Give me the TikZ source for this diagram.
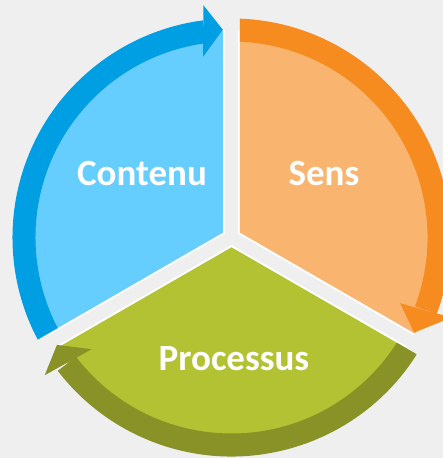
\documentclass[tikz,border=0pt]{standalone}
\usepackage{fontspec}
\setmainfont{Carlito}
\definecolor{bgGray}{HTML}{EFEFEF}
\definecolor{blueDark}{HTML}{009FE3}
\definecolor{blueLight}{HTML}{66CDFF}
\definecolor{orangeDark}{HTML}{F68B1F}
\definecolor{orangeLight}{HTML}{F9B56F}
\definecolor{greenLight}{HTML}{B3C233}
\definecolor{greenDark}{HTML}{889226}
\tikzset{
  label text/.style={text=white, font=\bfseries\fontsize{37}{40}\selectfont, inner sep=0pt, anchor=base}
}
\begin{document}
\begin{tikzpicture}[x=1pt,y=1pt]
  % canvas
  \fill[bgGray] (-231.5,-220.5) rectangle (211.5,237.5);
  \useasboundingbox (-231.5,-220.5) rectangle (211.5,237.5);

  % exploded pie: white rim, then coloured wedge
  \begin{scope}
    \clip (0,0) circle (207);
    \foreach \a/\c in {150/blueLight,30/orangeLight,270/greenLight} {
      \fill[white,shift={(\a:7.506)}] (0,0) -- ({\a-60}:400) -- (\a:400) -- ({\a+60}:400) -- cycle;
      \fill[\c,shift={(\a:9.815)}] (0,0) -- ({\a-60}:400) -- (\a:400) -- ({\a+60}:400) -- cycle;
    }
  \end{scope}

  % ring shafts, each cut along its own wedge
  \begin{scope}
    \clip[shift={(150:9.815)}] (0,0) -- (90:400) -- (150:400) -- (210:400) -- cycle;
    \fill[blueDark] (215:219) arc[start angle=215, end angle=97.5, radius=219]
      -- (97.5:196) arc[start angle=97.5, end angle=215, radius=196] -- cycle;
  \end{scope}
  \begin{scope}
    \clip[shift={(30:9.815)}] (0,0) -- (-30:400) -- (30:400) -- (90:400) -- cycle;
    \fill[orangeDark] (95:219) arc[start angle=95, end angle=-20.5, radius=219]
      -- (-20.5:196) arc[start angle=-20.5, end angle=95, radius=196] -- cycle;
  \end{scope}
  \begin{scope}
    \clip[shift={(270:9.815)}] (0,0) -- (210:400) -- (270:400) -- (330:400) -- cycle;
    \fill[greenDark] (-25:219) arc[start angle=-25, end angle=-142.5, radius=219]
      -- (-142.5:196) arc[start angle=-142.5, end angle=-25, radius=196] -- cycle;
  \end{scope}

  % arrow heads
  \fill[blueDark] (96.9:234) -- (92.4:208) -- (98.9:183) -- cycle;
  \fill[orangeDark] (-20:234) -- (-27.5:206) -- (-21.3:181) -- cycle;
  \fill[greenDark] (216.4:232) -- (211.6:205) -- (218.6:179) -- cycle;

  % labels
  \node[label text] (contenu) at (-89.5,52) {Contenu};
  \node[label text] (sens) at (92.5,52) {Sens};
  \node[label text] (processus) at (2.5,-132.5) {Processus};
\end{tikzpicture}
\end{document}
